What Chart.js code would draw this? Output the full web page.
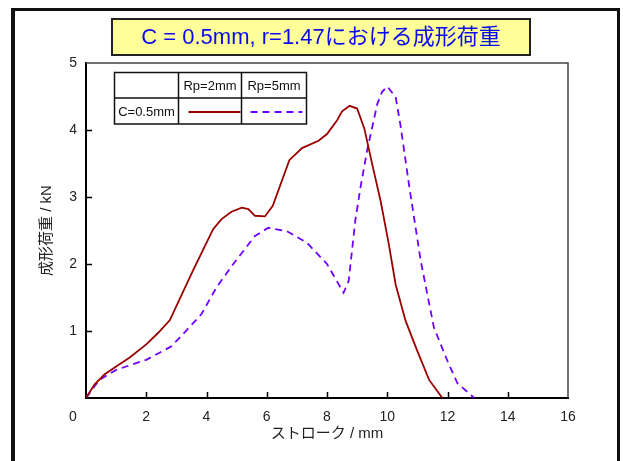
<!DOCTYPE html>
<html>
<head>
<meta charset="utf-8">
<script src="https://cdn.jsdelivr.net/npm/chart.js@4/dist/chart.umd.min.js"></script>
<style>
  html, body { margin: 0; padding: 0; background: #fff; }
  canvas { display: block; }
</style>
</head>
<body>
<canvas id="chart-load" width="623" height="461"></canvas>
<script>
// ストローク (mm) と 成形荷重 (kN)
const strokeRp2 = [0, 0.28, 0.61, 1.0, 1.44, 2.0, 2.39, 2.78, 3.55, 4.22, 4.5, 4.83, 5.17, 5.39, 5.61, 5.94, 6.2, 6.75, 7.17, 7.72, 8.0, 8.33, 8.5, 8.75, 9.0, 9.24, 9.5, 9.78, 10.05, 10.28, 10.61, 11.0, 11.39, 11.83];
const loadRp2 = [0, 0.20, 0.35, 0.47, 0.60, 0.80, 0.97, 1.16, 1.90, 2.52, 2.67, 2.78, 2.84, 2.82, 2.72, 2.71, 2.87, 3.55, 3.73, 3.84, 3.94, 4.14, 4.28, 4.36, 4.32, 4.02, 3.49, 2.94, 2.30, 1.69, 1.15, 0.70, 0.27, 0];

const strokeRp5 = [0, 0.44, 1.0, 2.0, 2.83, 3.11, 3.83, 4.33, 4.89, 5.61, 6.05, 6.67, 7.33, 8.0, 8.55, 8.72, 8.94, 9.11, 9.33, 9.67, 9.83, 10.0, 10.28, 10.44, 10.72, 11.11, 11.55, 12.0, 12.33, 12.89];
const loadRp5 = [0, 0.27, 0.42, 0.57, 0.77, 0.90, 1.25, 1.65, 2.0, 2.42, 2.54, 2.49, 2.32, 2.0, 1.57, 1.75, 2.65, 3.14, 3.69, 4.39, 4.57, 4.65, 4.49, 4.07, 3.19, 2.05, 1.05, 0.55, 0.22, 0];

const seriesLabels = ['Rp=2mm', 'Rp=5mm'];
const rowLabel = 'C=0.5mm';
const chartTitle = 'C = 0.5mm, r=1.47における成形荷重';
const xTicks = [0, 2, 4, 6, 8, 10, 12, 14, 16];
const yTicks = [0, 1, 2, 3, 4, 5];

const FONT = "'Liberation Sans', 'Noto Sans CJK JP', sans-serif";
const RED = '#990000';
const BLUE = '#7000ff';

const toPoints = (xs, ys) => xs.map((x, i) => ({ x: x, y: ys[i] }));

// 枠、タイトル、凡例表などを描く
const decorations = {
    id: 'decorations',
    beforeDraw(chart) {
        const ctx = chart.ctx;
        ctx.save();
        ctx.fillStyle = '#fff';
        ctx.fillRect(0, 0, chart.width, chart.height);

        // 外枠
        ctx.strokeStyle = '#111';
        ctx.lineWidth = 3;
        ctx.strokeRect(12.5, 9.5, 606, 470);
        ctx.fillStyle = '#111';
        ctx.fillRect(11, 9, 4, 460);

        // タイトル
        ctx.fillStyle = '#ffff99';
        ctx.fillRect(112, 19, 418, 36);
        ctx.strokeStyle = '#222';
        ctx.lineWidth = 2;
        ctx.strokeRect(112, 19, 418, 36);
        ctx.fillStyle = '#0a0aee';
        ctx.font = '22px ' + FONT;
        ctx.textAlign = 'center';
        ctx.textBaseline = 'middle';
        ctx.fillText(chartTitle, 321, 38);
        ctx.restore();
    },
    afterDraw(chart) {
        const ctx = chart.ctx;
        const xs = chart.scales.x, ys = chart.scales.y;
        const a = chart.chartArea;
        ctx.save();

        // 上と右の枠
        ctx.strokeStyle = '#444';
        ctx.lineWidth = 1.5;
        ctx.beginPath();
        ctx.moveTo(a.left, a.top);
        ctx.lineTo(a.right, a.top);
        ctx.lineTo(a.right, a.bottom);
        ctx.stroke();

        // 内向きの目盛り
        ctx.strokeStyle = '#000';
        ctx.lineWidth = 1.5;
        ctx.beginPath();
        xTicks.slice(1, -1).forEach(v => {
            const px = Math.round(xs.getPixelForValue(v)) + 0.5;
            ctx.moveTo(px, a.bottom);
            ctx.lineTo(px, a.bottom - 6);
        });
        yTicks.slice(1, -1).forEach(v => {
            const py = Math.round(ys.getPixelForValue(v)) + 0.5;
            ctx.moveTo(a.left, py);
            ctx.lineTo(a.left + 6, py);
        });
        ctx.stroke();

        // 原点の "0"
        ctx.fillStyle = '#222';
        ctx.font = '14px ' + FONT;
        ctx.textAlign = 'center';
        ctx.textBaseline = 'middle';
        ctx.fillText('0', 73, 417);

        // 凡例の表
        const L = 114.5, T = 72.5, R = 306.5, B = 124, c1 = 178.5, c2 = 241.5, mid = 98;
        ctx.strokeStyle = '#111';
        ctx.lineWidth = 1.5;
        ctx.fillStyle = '#fff';
        ctx.fillRect(L, T, R - L, B - T);
        ctx.strokeRect(L, T, R - L, B - T);
        ctx.beginPath();
        ctx.moveTo(c1, T); ctx.lineTo(c1, B);
        ctx.moveTo(c2, T); ctx.lineTo(c2, B);
        ctx.moveTo(L, mid); ctx.lineTo(R, mid);
        ctx.stroke();

        ctx.fillStyle = '#111';
        ctx.font = '13px ' + FONT;
        ctx.fillText(seriesLabels[0], (c1 + c2) / 2, (T + mid) / 2 + 1);
        ctx.fillText(seriesLabels[1], (c2 + R) / 2, (T + mid) / 2 + 1);
        ctx.fillText(rowLabel, (L + c1) / 2, (mid + B) / 2 + 1);

        const ly = 112;
        chart.data.datasets.forEach((ds, i) => {
            const x0 = i === 0 ? c1 + 10 : c2 + 9;
            ctx.strokeStyle = ds.borderColor;
            ctx.lineWidth = ds.borderWidth;
            ctx.setLineDash(ds.borderDash || []);
            ctx.beginPath();
            ctx.moveTo(x0, ly);
            ctx.lineTo(x0 + 52, ly);
            ctx.stroke();
        });
        ctx.restore();
    }
};

new Chart(document.getElementById('chart-load'), {
    type: 'line',
    data: {
        datasets: [{
            label: seriesLabels[0],
            data: toPoints(strokeRp2, loadRp2),
            borderColor: RED,
            borderWidth: 1.8,
            pointRadius: 0,
            tension: 0,
            fill: false,
        }, {
            label: seriesLabels[1],
            data: toPoints(strokeRp5, loadRp5),
            borderColor: BLUE,
            borderWidth: 1.8,
            borderDash: [7, 5],
            pointRadius: 0,
            tension: 0,
            fill: false,
        }],
    },
    options: {
        responsive: false,
        animation: false,
        devicePixelRatio: 1,
        layout: { padding: { top: 63, right: 55, left: 0, bottom: 0 } },
        plugins: {
            legend: { display: false },
            title: { display: false },
            tooltip: { enabled: false },
        },
        scales: {
            x: {
                type: 'linear',
                min: 0,
                max: 16,
                afterFit: s => { s.height = 63; },
                afterBuildTicks: s => { s.ticks = xTicks.map(v => ({ value: v })); },
                grid: { display: false, drawTicks: false },
                border: { display: true, color: '#000', width: 2 },
                ticks: {
                    padding: 11,
                    color: '#222',
                    font: { family: FONT, size: 14 },
                    maxRotation: 0,
                    callback: v => v === 0 ? '' : String(v),
                },
                title: {
                    display: true,
                    text: 'ストローク / mm',
                    color: '#222',
                    font: { family: FONT, size: 15 },
                    padding: { top: 0, bottom: 18 },
                },
            },
            y: {
                min: 0,
                max: 5,
                afterFit: s => { s.width = 86; },
                afterBuildTicks: s => { s.ticks = yTicks.map(v => ({ value: v })); },
                grid: { display: false, drawTicks: false },
                border: { display: true, color: '#000', width: 2 },
                ticks: {
                    padding: 9,
                    color: '#222',
                    font: { family: FONT, size: 14 },
                    callback: v => v === 0 ? '' : String(v),
                },
                title: {
                    display: true,
                    text: '成形荷重 / kN',
                    color: '#222',
                    font: { family: FONT, size: 15 },
                    padding: { top: 38, bottom: 0 },
                },
            },
        },
    },
    plugins: [decorations],
});
</script>
</body>
</html>
